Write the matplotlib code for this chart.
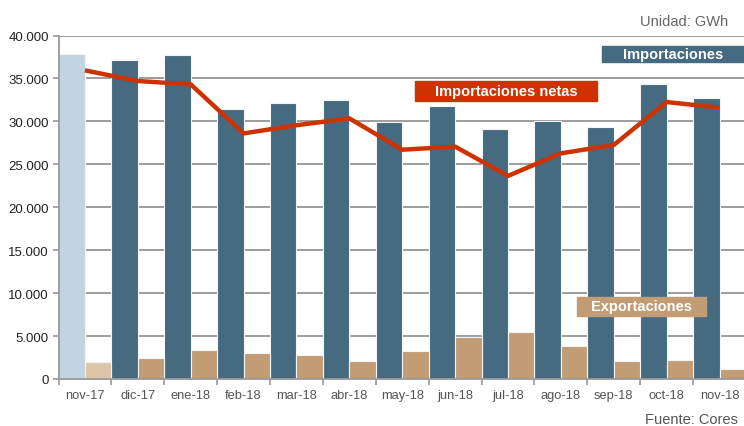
import matplotlib
matplotlib.use("Agg")
import matplotlib.pyplot as plt
from matplotlib.patches import Rectangle
from matplotlib.ticker import FuncFormatter, FixedLocator
import numpy as np

plt.rcParams['font.family'] = ['Liberation Sans', 'DejaVu Sans']

months = ["nov-17", "dic-17", "ene-18", "feb-18", "mar-18", "abr-18", "may-18",
          "jun-18", "jul-18", "ago-18", "sep-18", "oct-18", "nov-18"]
importaciones = [37900, 37100, 37720, 31480, 32100, 32450, 29970,
                 31800, 29070, 30040, 29300, 34340, 32760]
exportaciones = [1980, 2440, 3410, 2990, 2750, 2090, 3300,
                 4930, 5500, 3880, 2090, 2170, 1200]
netas = [35940, 34700, 34310, 28600, 29550, 30350, 26700,
         27060, 23650, 26280, 27250, 32250, 31600]
yticks = [0, 5000, 10000, 15000, 20000, 25000, 30000, 35000, 40000]

W, H = 744, 427
fig = plt.figure(figsize=(W / 100, H / 100), dpi=100)
ax = fig.add_axes([58.5 / W, 1 - 380 / H, (746 - 58.5) / W, (380 - 36.5) / H])

x = np.arange(len(months))
imp_colors = ["#c2d4e0"] + ["#466a80"] * (len(months) - 1)
exp_colors = ["#dcc5a8"] + ["#c29c74"] * (len(months) - 1)

ax.bar(x - 0.25, importaciones, width=0.5, color=imp_colors, edgecolor="#f4f4f4",
       linewidth=0.8, zorder=2)
ax.bar(x + 0.25, exportaciones, width=0.5, color=exp_colors, edgecolor="#f4f4f4",
       linewidth=0.8, zorder=2)
ax.plot(x, netas, color="#cc3300", linewidth=3.2, zorder=3, solid_capstyle="butt")

ax.set_xlim(-0.5, len(months) - 0.5)
ax.set_ylim(0, 40000)
ax.set_yticks(yticks)
ax.yaxis.set_major_formatter(FuncFormatter(lambda v, p: f"{int(v):,}".replace(",", ".")))
ax.set_axisbelow(True)
ax.grid(axis="y", color="#959595", linewidth=1.3)

ax.set_xticks(x)
ax.set_xticklabels(months)
ax.xaxis.set_minor_locator(FixedLocator(np.arange(-0.5, len(months) + 0.5, 1.0)))
ax.tick_params(axis="x", which="major", length=0, labelsize=9.3, labelcolor="#555555", pad=7)
ax.tick_params(axis="x", which="minor", length=4, color="#999999", width=1.2)
ax.tick_params(axis="y", length=4, color="#999999", width=1.2, labelsize=9.5,
               labelcolor="#222222", pad=3)

for s in ["top", "right"]:
    ax.spines[s].set_visible(False)
for s in ["left", "bottom"]:
    ax.spines[s].set_color("#999999")
    ax.spines[s].set_linewidth(1.3)


def box(x0, y0, x1, y1, color, text, tx, ty):
    fig.add_artist(Rectangle((x0 / W, 1 - y1 / H), (x1 - x0) / W, (y1 - y0) / H,
                             transform=fig.transFigure, color=color, zorder=5))
    fig.text(tx / W, 1 - ty / H, text, color="white", fontsize=10.5, fontweight="bold",
             ha="center", va="center", zorder=6)


box(602, 46.5, 744, 62.5, "#466a80", "Importaciones", 673, 54.5)
box(415, 82, 597, 101.5, "#cc3300", "Importaciones netas", 506, 92)
box(577, 297.5, 706, 317, "#c29c74", "Exportaciones", 641.5, 307.5)

fig.text(728 / W, 1 - 22 / H, "Unidad: GWh", ha="right", va="center",
         fontsize=10.5, color="#666666")
fig.text(738 / W, 1 - 420 / H, "Fuente: Cores", ha="right", va="center",
         fontsize=10.5, color="#555555")

fig.savefig("out.png", dpi=100)
